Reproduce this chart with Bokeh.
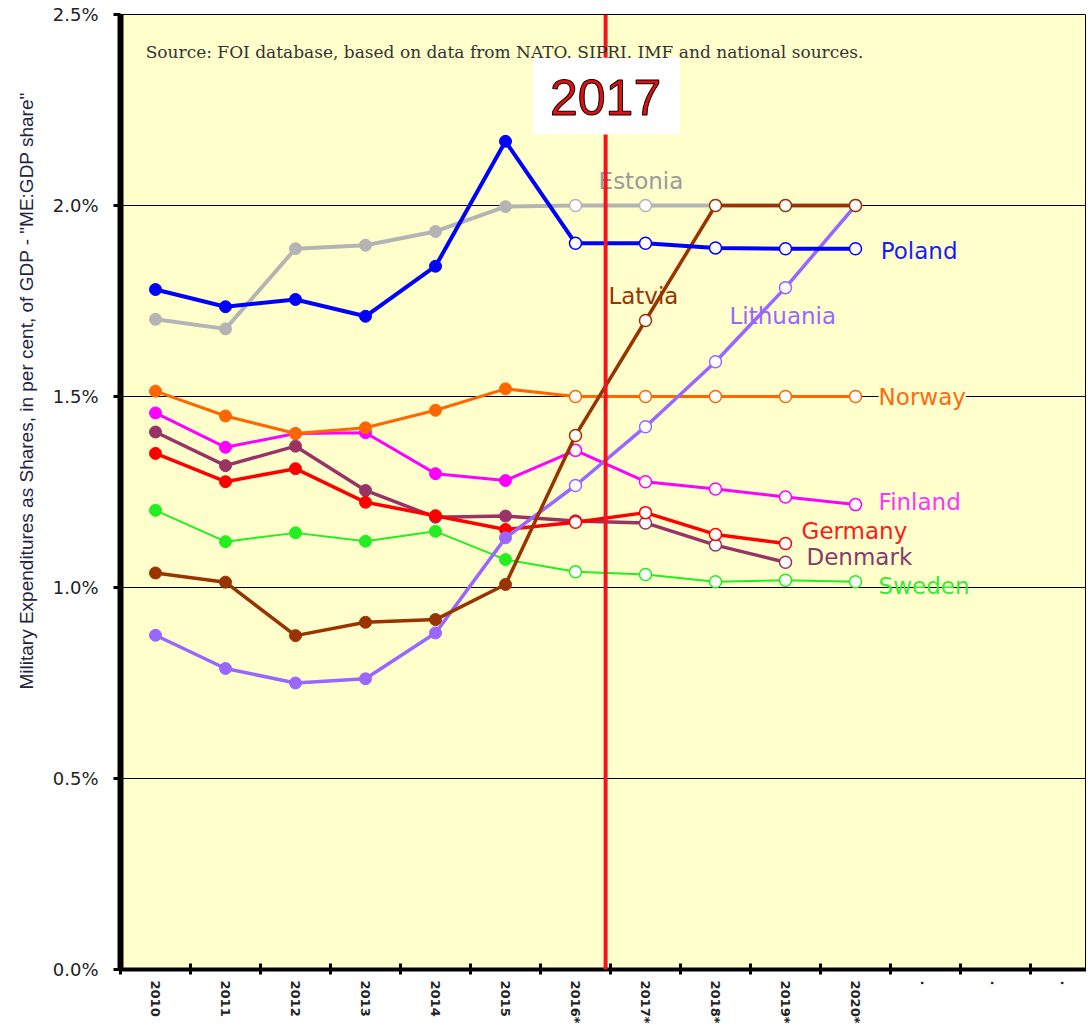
import math
from bokeh.plotting import figure
from bokeh.models import (Range1d, FixedTicker, PrintfTickFormatter, Span,
                          BoxAnnotation, Label, Title)
from bokeh.embed import file_html
from bokeh.resources import INLINE

# ---------------- data ----------------
categories = ["2010", "2011", "2012", "2013", "2014", "2015", "2016*",
              "2017*", "2018*", "2019*", "2020*", ".", ".", "."]
n_actual = 6  # 2010-2015 are actual values, the rest are estimates

poland    = [1.780, 1.735, 1.754, 1.710, 1.841, 2.168, 1.901, 1.901, 1.889, 1.887, 1.887]
estonia   = [1.702, 1.677, 1.887, 1.896, 1.932, 1.997, 2.000, 2.000, 2.000, 2.000, 2.000]
latvia    = [1.038, 1.014, 0.874, 0.909, 0.916, 1.008, 1.398, 1.699, 2.000, 2.000, 2.000]
lithuania = [0.875, 0.788, 0.750, 0.761, 0.881, 1.130, 1.267, 1.421, 1.591, 1.785, 2.000]
norway    = [1.514, 1.449, 1.403, 1.418, 1.464, 1.520, 1.500, 1.500, 1.500, 1.500, 1.500]
finland   = [1.457, 1.367, 1.403, 1.405, 1.298, 1.280, 1.359, 1.277, 1.258, 1.237, 1.217]
denmark   = [1.407, 1.319, 1.370, 1.254, 1.184, 1.187, 1.174, 1.169, 1.111, 1.066]
germany   = [1.351, 1.277, 1.311, 1.223, 1.188, 1.152, 1.171, 1.196, 1.139, 1.115]
sweden    = [1.202, 1.120, 1.143, 1.121, 1.147, 1.073, 1.041, 1.034, 1.015, 1.019, 1.015]

y_ticks = [0.0, 0.5, 1.0, 1.5, 2.0, 2.5]

series = [
    # name, values, line colour, label colour, line width, label pos (x slot, y)
    ("Estonia",   estonia,   "#b4b4b4", "#9a9a9a", 4.0, (6.83, 2.065)),
    ("Sweden",    sweden,    "#22ee22", "#33ee33", 2.0, (10.83, 1.005)),
    ("Denmark",   denmark,   "#993366", "#8a3a6a", 3.5, (9.80, 1.079)),
    ("Germany",   germany,   "#ff0000", "#ff1a1a", 3.5, (9.73, 1.149)),
    ("Finland",   finland,   "#ff00ff", "#ff33ff", 3.0, (10.83, 1.223)),
    ("Norway",    norway,    "#ff6600", "#ff6a10", 3.0, (10.83, 1.500)),
    ("Lithuania", lithuania, "#9966ff", "#9966ff", 3.5, (8.70, 1.712)),
    ("Latvia",    latvia,    "#993300", "#993300", 3.5, (6.97, 1.764)),
    ("Poland",    poland,    "#0000ff", "#1a1aff", 4.0, (10.86, 1.880)),
]

# ---------------- figure ----------------
p = figure(width=1086, height=1026,
           x_range=Range1d(0, 13.8), y_range=Range1d(0, 2.5),
           output_backend="svg", toolbar_location=None,
           min_border_left=120, min_border_right=0,
           min_border_top=14, min_border_bottom=56,
           background_fill_color="#ffffcc", border_fill_color="white",
           outline_line_color="black", outline_line_width=1)

# x axis: labels at slot centres (major), ticks at slot boundaries (minor)
centers = [i + 0.5 for i in range(len(categories))]
bounds = [float(i) for i in range(len(categories))]
p.xaxis.ticker = FixedTicker(ticks=centers, minor_ticks=bounds)
p.xaxis.major_label_overrides = {c: lab for c, lab in zip(centers, categories)}
p.xaxis.major_label_orientation = "vertical"
p.xaxis.major_tick_line_color = None
p.xaxis.major_tick_in = 0
p.xaxis.major_tick_out = 0
p.xaxis.minor_tick_line_color = "black"
p.xaxis.minor_tick_line_width = 3
p.xaxis.minor_tick_in = 6
p.xaxis.minor_tick_out = 5
p.xaxis.axis_line_width = 4
p.xaxis.axis_line_color = "black"
p.xaxis.major_label_standoff = 6
p.xaxis.major_label_text_font = "DejaVu Sans"
p.xaxis.major_label_text_font_style = "bold"
p.xaxis.major_label_text_font_size = "13px"
p.xaxis.major_label_text_color = "#222222"

p.yaxis.ticker = FixedTicker(ticks=y_ticks)
p.yaxis.formatter = PrintfTickFormatter(format="%.1f%%")
p.yaxis.axis_line_width = 6
p.yaxis.axis_line_color = "black"
p.yaxis.major_tick_in = 0
p.yaxis.major_tick_out = 7
p.yaxis.major_tick_line_width = 3
p.yaxis.minor_tick_line_color = None
p.yaxis.major_label_standoff = 15
p.yaxis.major_label_text_font = "DejaVu Sans"
p.yaxis.major_label_text_font_size = "18px"
p.yaxis.major_label_text_color = "#222222"

p.xgrid.visible = False
p.ygrid.ticker = FixedTicker(ticks=y_ticks)
p.ygrid.grid_line_color = "black"
p.ygrid.grid_line_width = 1

# y axis title (starts near the bottom, offset upward)
p.add_layout(Title(text='Military Expenditures  as Shares, in per cent, of GDP - "ME:GDP share"',
                   align="left", offset=280, standoff=26,
                   text_color="#222244", text_font="Liberation Sans",
                   text_font_size="19px", text_font_style="normal"), "left")

# ---------------- data series ----------------
for name, vals, col, lcol, lw, (lx, ly) in series:
    xs = centers[:len(vals)]
    p.line(xs, vals, line_color=col, line_width=lw)
    p.scatter(xs[:n_actual], vals[:n_actual], size=12, marker="circle",
              fill_color=col, line_color=col, line_width=1)
    p.scatter(xs[n_actual:], vals[n_actual:], size=12, marker="circle",
              fill_color="white", line_color=col, line_width=1.5)

for name, vals, col, lcol, lw, (lx, ly) in series:
    kw = {}
    if name == "Norway":
        kw = dict(background_fill_color="#ffffcc", background_fill_alpha=1.0)
    p.add_layout(Label(x=lx, y=ly, text=name, text_color=lcol,
                       text_font="DejaVu Sans", text_font_size="23px",
                       text_baseline="middle", text_align="left", **kw))

# ---------------- annotations ----------------
p.add_layout(Span(location=6.93, dimension="height", line_color="#f0141e",
                  line_width=4))
p.add_layout(BoxAnnotation(left=5.89, right=7.99, bottom=2.186, top=2.387,
                           fill_color="white", fill_alpha=1.0, line_color=None))
p.add_layout(Label(x=6.93, y=2.282, text="2017", text_color="#dd1111",
                   text_outline_color="black",
                   text_font="Liberation Sans", text_font_size="50px",
                   text_align="center", text_baseline="middle"))

p.add_layout(Label(x=0.36, y=2.403,
                   text="Source: FOI database, based on data from NATO. SIPRI. IMF and national sources.",
                   text_color="#333333", text_font="DejaVu Serif",
                   text_font_size="17px", text_baseline="middle"))

open("out.html", "w").write(file_html(p, INLINE))
